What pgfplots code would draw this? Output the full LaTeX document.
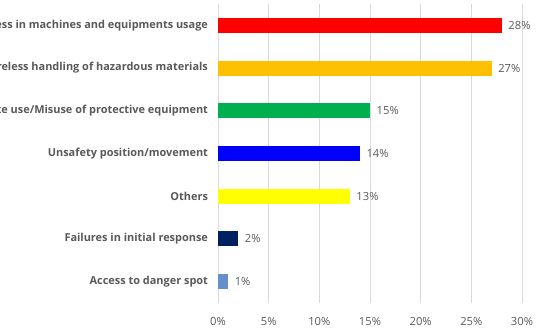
\documentclass[border=0pt]{standalone}
\usepackage{pgfplots}
\pgfplotsset{compat=1.18}
\usepackage{fontspec}
\setmainfont{Open Sans}
\definecolor{txt}{HTML}{595959}
\definecolor{gridc}{HTML}{D9D9D9}
\definecolor{c1}{HTML}{FF0000}
\definecolor{c2}{HTML}{FFC000}
\definecolor{c3}{HTML}{00B050}
\definecolor{c4}{HTML}{0000FF}
\definecolor{c5}{HTML}{FFFF00}
\definecolor{c6}{HTML}{002060}
\definecolor{c7}{HTML}{658FCD}
\begin{document}
\begin{tikzpicture}
\begin{axis}[
  name=ax,
  scale only axis,
  width=228pt, height=224.25pt,
  xbar, bar shift=0pt, bar width=0.35,
  xmin=0, xmax=30, ymin=-0.5, ymax=6.5,
  xtick={0,5,10,15,20,25,30},
  xticklabels={0\%,5\%,10\%,15\%,20\%,25\%,30\%},
  ytick={0,1,2,3,4,5,6},
  yticklabels={Access to danger spot,Failures in initial response,Others,Unsafety position/movement,Inappropriate use/Misuse of protective equipment,Careless handling of hazardous materials,Carelessness in machines and equipments usage},
  yticklabel style={font=\fontsize{8.2}{10}\selectfont\bfseries, text=txt, xshift=-4pt},
  xticklabel style={font=\fontsize{8.4}{10}\selectfont, text=txt, yshift=-7pt},
  major tick length=0pt,
  axis line style={draw=none},
  xmajorgrids, grid style={draw=gridc, line width=0.5pt},
  nodes near coords={\pgfmathprintnumber[assume math mode=true]{\pgfplotspointmeta}\%},
  point meta=x,
  every node near coord/.append style={font=\fontsize{8.4}{10}\selectfont, text=txt, anchor=west, xshift=1.5pt},
  clip=false,
]
\addplot[fill=c1, draw=none] coordinates {(28,6)};
\addplot[fill=c2, draw=none] coordinates {(27,5)};
\addplot[fill=c3, draw=none] coordinates {(15,4)};
\addplot[fill=c4, draw=none] coordinates {(14,3)};
\addplot[fill=c5, draw=none] coordinates {(13,2)};
\addplot[fill=c6, draw=none] coordinates {(2,1)};
\addplot[fill=c7, draw=none] coordinates {(1,0)};
\end{axis}
\pgfresetboundingbox
\path[use as bounding box] ([shift={(-163.5pt,-24.75pt)}]ax.south west) rectangle ([shift={(12pt,3pt)}]ax.north east);
\end{tikzpicture}
\end{document}
